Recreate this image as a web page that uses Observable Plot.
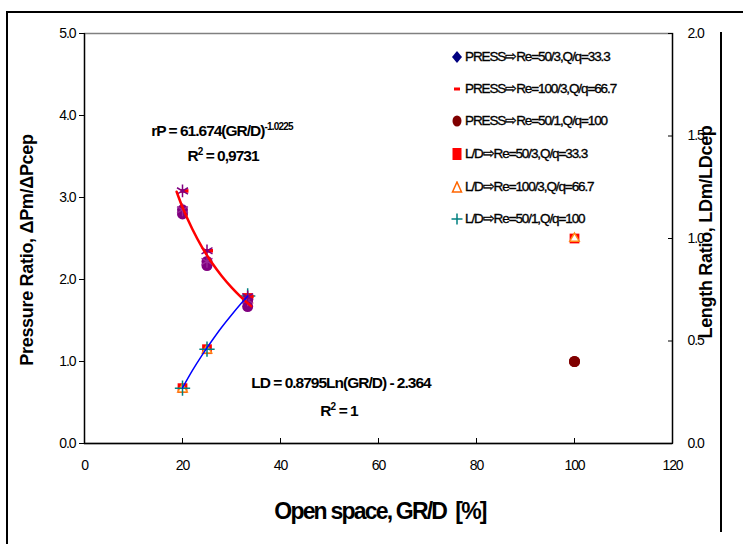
<!DOCTYPE html>
<html><head><meta charset="utf-8">
<script src="https://cdn.jsdelivr.net/npm/d3@7"></script>
<script src="https://cdn.jsdelivr.net/npm/@observablehq/plot@0.6"></script>
<style>
body{margin:0;background:#fff;}
#wrap{position:relative;width:743px;height:544px;overflow:hidden;font-family:"Liberation Sans",Arial,sans-serif;background:#fff;}
#chart{position:absolute;left:0;top:0;}
#chart svg text{letter-spacing:-1.1px;}
.ov{position:absolute;white-space:nowrap;color:#000;line-height:1;}
.c{transform:translate(-50%,-50%);}
.rot{transform:translate(-50%,-50%) rotate(-90deg);}
.ann{font-weight:bold;font-size:15.5px;letter-spacing:-1px;}
.ann sup{font-size:10px;vertical-align:0;position:relative;top:-6px;letter-spacing:-0.8px;}
.axl{font-weight:bold;font-size:18px;letter-spacing:-0.3px;}
.xl{font-weight:bold;font-size:23px;letter-spacing:-1.8px;}
.leg{font-size:13.5px;letter-spacing:-1.1px;display:flex;align-items:center;-webkit-text-stroke:0.35px #000;}
.leg svg{margin-right:2px;}
.ln{position:absolute;background:#000;}
</style></head>
<body><div id="wrap"><div id="chart"></div></div>
<script>
// ---- data ----
const openSpace = [20, 25, 33.3, 100];                 // GR/D [%]
const pressRe50_3  = [2.85, 2.22, 1.75, 1.0];          // PRESS Re=50/3
const pressRe100_3 = [3.08, 2.35, 1.79, 1.0];          // PRESS Re=100/3
const pressRe50_1  = [2.80, 2.17, 1.67, 1.0];          // PRESS Re=50/1
const ldRe50_3  = [0.27, 0.46, 0.71, 1.0];             // L/D Re=50/3 (right axis)
const ldRe100_3 = [0.265, 0.455, 0.70, 1.0];           // L/D Re=100/3 (right axis)
const ldRe50_1  = [0.27, 0.46, 0.72];                  // L/D Re=50/1 (right axis)
// power trendline rP = 61.674(GR/D)^-1.0225
const powerFitX = [18.8, 20, 22, 24, 26, 28, 30, 32, 34];
const powerFitY = [3.07, 2.88, 2.615, 2.392, 2.204, 2.043, 1.904, 1.782, 1.675];
// log trendline LD = 0.8795Ln(GR/D) - 2.364 (right axis)
const logFitX = [20, 22, 24, 26, 28, 30, 32, 33.3];
const logFitY = [0.271, 0.355, 0.431, 0.501, 0.567, 0.627, 0.684, 0.719];
const xTicks = [0, 20, 40, 60, 80, 100, 120];
const leftTicks = [0, 1, 2, 3, 4, 5];
const rightTicks = [0, 0.5, 1.0, 1.5, 2.0];
const legendLabels = [
  "PRESS⇨Re=50/3,Q/q=33.3",
  "PRESS⇨Re=100/3,Q/q=66.7",
  "PRESS⇨Re=50/1,Q/q=100",
  "L/D⇨Re=50/3,Q/q=33.3",
  "L/D⇨Re=100/3,Q/q=66.7",
  "L/D⇨Re=50/1,Q/q=100"
];
const K = 5 / 2; // left-axis span / right-axis span

// ---- build tables ----
const toPts = (ys) => ys.map((y, i) => ({x: openSpace[i], y}));
const p1 = toPts(pressRe50_3), p2 = toPts(pressRe100_3), p3 = toPts(pressRe50_1);
const l1 = toPts(ldRe50_3), l2 = toPts(ldRe100_3), l3 = toPts(ldRe50_1);
const powerFit = powerFitX.map((x, i) => ({x, y: powerFitY[i]}));
const logFit = logFitX.map((x, i) => ({x, y: logFitY[i]}));

const dash = {draw(ctx, size){ const w = Math.sqrt(size) * 0.75, h = w * 0.45; ctx.rect(-w/2 + 2, -h/2, w, h); }};
const pcol = d => d.x === 100 ? "#800000" : "#800080";

const plot = Plot.plot({
  width: 743, height: 544,
  marginLeft: 84, marginRight: 71, marginTop: 33, marginBottom: 101,
  x: {domain: [0, 120]},
  y: {domain: [0, 5]},
  style: {fontFamily: "Liberation Sans, Arial, sans-serif", fontSize: "14px", background: "transparent", color: "#000"},
  marks: [
    Plot.frame({stroke: "#808080", strokeWidth: 1.5}),
    Plot.ruleX([0], {stroke: "#000", strokeWidth: 1.3}),
    Plot.ruleX([120], {stroke: "#000", strokeWidth: 1.3}),
    Plot.ruleY([0], {stroke: "#000", strokeWidth: 1.3}),
    Plot.axisY(leftTicks, {anchor: "left", tickSize: 5, tickPadding: 4, tickFormat: d => d.toFixed(1), label: null}),
    Plot.axisY(rightTicks.map(v => v * K), {anchor: "right", tickSize: 5, dx: -5, fill: "none", label: null}),
    Plot.axisY(rightTicks.map(v => v * K), {anchor: "right", tickSize: 0, tickPadding: 15, tickFormat: d => (d / K).toFixed(1), label: null}),
    Plot.axisX(xTicks, {anchor: "bottom", tickSize: 5, dy: -5, fill: "none", label: null}),
    Plot.axisX(xTicks, {anchor: "bottom", tickSize: 0, tickPadding: 17, tickFormat: d => String(d), label: null}),
    // L/D series (right axis)
    Plot.dot(l1, {x: "x", y: d => d.y * K, symbol: "square", r: 5.5, fill: "#ff0000"}),
    Plot.dot(l2, {x: "x", y: d => d.y * K, symbol: "triangle", r: 3.5, stroke: "#ff8c1a", strokeWidth: 1.5, fill: "#fff"}),
    Plot.dot(l3, {x: "x", y: d => d.y * K, symbol: "plus", r: 5, stroke: "#008080", strokeWidth: 1.5}),
    // pressure series
    Plot.dot(p1, {x: "x", y: "y", symbol: "circle", r: 5.5, fill: pcol}),
    Plot.dot(p3, {x: "x", y: "y", symbol: "circle", r: 5.5, fill: pcol}),
    Plot.dot(p1.filter(d => d.x < 100), {x: "x", y: "y", symbol: "asterisk", r: 6, stroke: "#9a2a9a", strokeWidth: 1.2}),
    Plot.dot(p2.filter(d => d.x < 100), {x: "x", y: "y", symbol: dash, r: 6, fill: "#ff0000"}),
    Plot.dot(p2.filter(d => d.x < 100), {x: "x", y: "y", symbol: "asterisk", r: 6, stroke: "#800080", strokeWidth: 1.5}),
    // trendlines
    Plot.line(powerFit, {x: "x", y: "y", stroke: "#ff0000", strokeWidth: 2.5, curve: "monotone-x"}),
    Plot.line(logFit, {x: "x", y: d => d.y * K, stroke: "#0000ff", strokeWidth: 1.5, curve: "monotone-x"})
  ]
});
const wrap = document.getElementById("wrap");
document.getElementById("chart").appendChild(plot);

function add(html, cls, css){ const d = document.createElement("div"); d.className = "ov " + cls; d.innerHTML = html; Object.assign(d.style, css); wrap.appendChild(d); return d; }
// outer frame lines
add("", "ln", {left: "6px", top: "11px", width: "737px", height: "1.5px"}).className = "ln";
add("", "ln", {left: "6px", top: "11px", width: "1.5px", height: "533px"}).className = "ln";
add("", "ln", {left: "720px", top: "32px", width: "2px", height: "500px"}).className = "ln";

// annotations
add("rP = 61.674(GR/D)<sup>-1.0225</sup>", "ann c", {left: "222px", top: "131px"});
add("R<sup>2</sup> = 0,9731", "ann c", {left: "223px", top: "156px"});
add("LD = 0.8795Ln(GR/D) - 2.364", "ann c", {left: "341px", top: "383px"});
add("R<sup>2</sup> = 1", "ann c", {left: "339px", top: "411px"});

// axis titles
add("Pressure Ratio, ΔPm/ΔPcep", "axl rot", {left: "27px", top: "250px"});
add("Length Ratio, LDm/LDcep", "axl rot", {left: "706px", top: "232px"});
add("Open space, GR/D&nbsp; [%]", "xl c", {left: "380px", top: "511px"});

// legend
const sw = [
  '<svg width="12" height="12"><path d="M6,0 L11,6 L6,12 L1,6Z" fill="#000080"/></svg>',
  '<svg width="12" height="12"><rect x="3" y="4.5" width="6" height="3" fill="#ff0000"/></svg>',
  '<svg width="12" height="12"><ellipse cx="6" cy="6" rx="4.5" ry="5.5" fill="#800000"/></svg>',
  '<svg width="12" height="12"><rect x="1.5" y="0" width="9" height="12" fill="#ff0000"/></svg>',
  '<svg width="12" height="12"><path d="M6,1 L10.5,11 L1.5,11Z" fill="none" stroke="#ff6600" stroke-width="1.5"/></svg>',
  '<svg width="12" height="12"><path d="M6,0.5V11.5M0.5,6H11.5" stroke="#008080" stroke-width="1.5"/></svg>'
];
const legY = [57, 89, 121, 154, 187, 219];
legendLabels.forEach((t, i) => {
  add(sw[i] + "<span>" + t + "</span>", "leg", {left: "451px", top: (legY[i] - 7) + "px"});
});
</script>
</body></html>
